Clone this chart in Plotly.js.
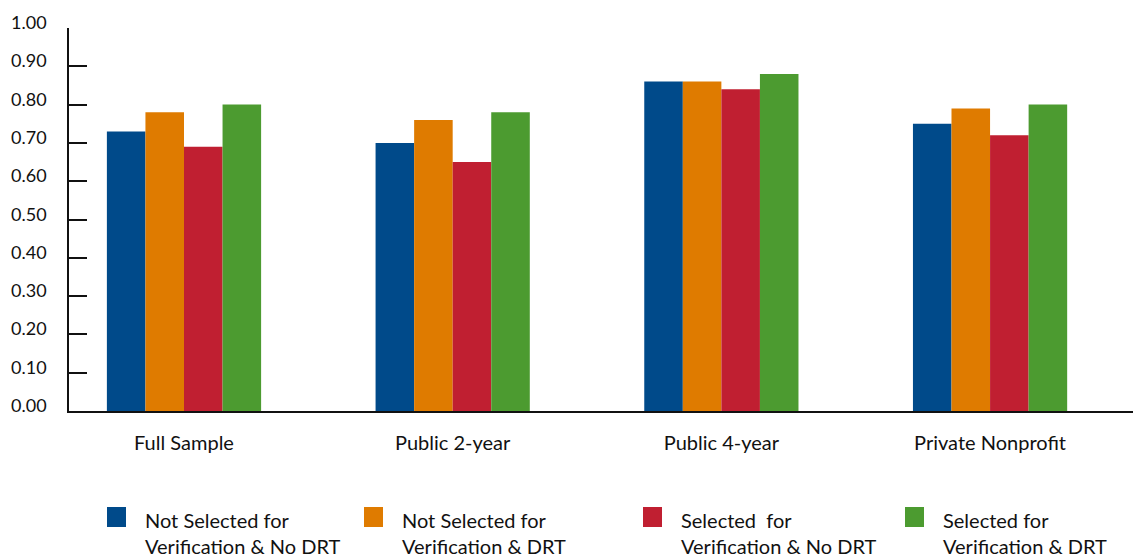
<!DOCTYPE html>
<html>
<head>
<meta charset="utf-8">
<script src="https://cdn.plot.ly/plotly-3.0.1.min.js"></script>
<style>
  html, body { margin: 0; padding: 0; background: #ffffff; }
  #chart { width: 1133px; height: 557px; }
</style>
</head>
<body>
<div id="chart"></div>
<script>
// Institution groups along the x axis
const categories = ['Full Sample', 'Public 2-year', 'Public 4-year', 'Private Nonprofit'];

// One series per verification / DRT group
const seriesNames = [
  ['Not Selected for', 'Verification & No DRT'],
  ['Not Selected for', 'Verification & DRT'],
  ['Selected\u00a0 for', 'Verification & No DRT'],
  ['Selected for', 'Verification & DRT']
];
const notSelNoDRT = [0.73, 0.70, 0.86, 0.75];
const notSelDRT   = [0.78, 0.76, 0.86, 0.79];
const selNoDRT    = [0.69, 0.65, 0.84, 0.72];
const selDRT      = [0.80, 0.78, 0.88, 0.80];
const seriesValues = [notSelNoDRT, notSelDRT, selNoDRT, selDRT];
const seriesColors = ['#004a8a', '#df7b00', '#c01f31', '#4c9b30'];

// Y axis ticks
const yTicks = [0, 0.1, 0.2, 0.3, 0.4, 0.5, 0.6, 0.7, 0.8, 0.9, 1.0];
const yTickText = yTicks.map(v => v.toFixed(2));

const FONT = 'Lato, "Open Sans", sans-serif';
const INK = '#111111';

const traces = seriesValues.map((vals, i) => ({
  type: 'bar',
  x: categories,
  y: vals,
  name: seriesNames[i].join(' '),
  marker: { color: seriesColors[i], line: { width: 0 } },
  showlegend: false,
  hoverinfo: 'x+y'
}));

// Tick labels sit a few pixels above their tick marks
const annotations = yTicks.map((v, i) => ({
  xref: 'paper', yref: 'y',
  x: 0, y: v,
  xanchor: 'right', yanchor: 'middle',
  xshift: -20, yshift: 6,
  text: yTickText[i],
  showarrow: false,
  font: { family: FONT, size: 18, color: INK }
}));

// Legend: colour squares with two-line labels below the plot
const legendX = [107, 364, 643, 905];
const plotLeft = 69, plotW = 1133 - 69;
const shapes = [];
seriesNames.forEach((lines, i) => {
  shapes.push({
    type: 'rect', xref: 'paper', yref: 'paper',
    x0: (legendX[i] - plotLeft) / plotW,
    x1: (legendX[i] + 19 - plotLeft) / plotW,
    y0: (411 - 507) / 383, y1: (411 - 527) / 383,
    fillcolor: seriesColors[i], line: { width: 0 }
  });
  annotations.push({
    xref: 'paper', yref: 'paper',
    x: (legendX[i] + 36 - plotLeft) / plotW,
    y: (411 - 506) / 383,
    xanchor: 'left', yanchor: 'top', align: 'left',
    text: lines.join('<br>'),
    showarrow: false,
    font: { family: FONT, size: 20, color: INK }
  });
});

const layout = {
  width: 1133, height: 557,
  margin: { l: 69, r: 0, t: 28, b: 146, pad: 0 },
  paper_bgcolor: '#ffffff', plot_bgcolor: '#ffffff',
  barmode: 'group',
  bargap: 0.426,
  bargroupgap: 0,
  font: { family: FONT, size: 20, color: INK },
  xaxis: {
    type: 'category',
    range: [-0.428, 3.532],
    showline: true, linecolor: INK, linewidth: 2,
    ticks: '', showgrid: false, zeroline: false,
    tickfont: { family: FONT, size: 20, color: INK },
    ticklabelstandoff: 13
  },
  yaxis: {
    range: [0, 1],
    tickvals: yTicks,
    showticklabels: false,
    ticks: 'inside', ticklen: 18, tickwidth: 2, tickcolor: INK,
    showline: true, linecolor: INK, linewidth: 2,
    showgrid: false, zeroline: false
  },
  shapes: shapes,
  annotations: annotations,
  showlegend: false
};

Plotly.newPlot('chart', traces, layout, { displayModeBar: false, staticPlot: true });
</script>
</body>
</html>
